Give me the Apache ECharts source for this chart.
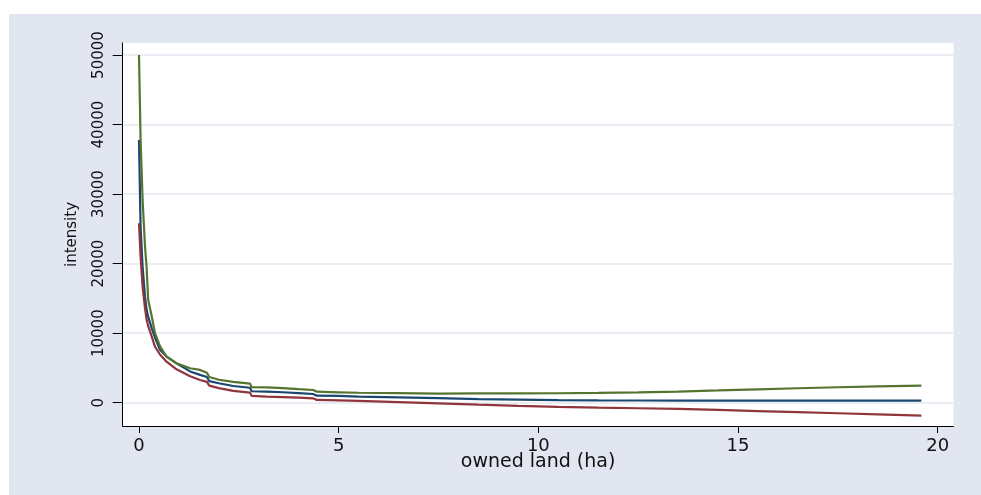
<!DOCTYPE html>
<html>
<head>
<meta charset="utf-8">
<script src="https://cdn.jsdelivr.net/npm/echarts@6/dist/echarts.min.js"></script>
<style>
html,body{margin:0;padding:0;background:#fff;}
#chart{width:981px;height:495px;}
</style>
</head>
<body>
<div id="chart"></div>
<script>
// owned land (ha) – shared x positions
var landHa = [0.0, 0.04, 0.09, 0.15, 0.19, 0.23, 0.32, 0.40, 0.53, 0.69, 0.94, 1.28, 1.53, 1.70, 1.76, 2.0, 2.36, 2.78, 2.82, 3.2, 3.6, 4.0, 4.36, 4.45, 5.0, 5.5, 6.5, 7.5, 8.5, 9.5, 10.5, 11.5, 12.5, 13.5, 14.5, 15.5, 16.5, 17.5, 18.5, 19.59];
// intensity curves
var navySeries = [37800, 25300, 19570, 15250, 13400, 12380, 10700, 9380, 7580, 6630, 5660, 4500, 4000, 3700, 3100, 2800, 2400, 2150, 1650, 1580, 1500, 1380, 1250, 1010, 980, 880, 780, 650, 510, 440, 380, 340, 320, 310, 305, 300, 300, 300, 300, 300];
var maroonSeries = [25800, 21000, 16700, 13600, 11950, 11000, 9500, 8060, 6900, 5900, 4800, 3800, 3270, 3000, 2450, 2100, 1700, 1450, 980, 880, 800, 720, 630, 400, 330, 250, 80, -100, -280, -450, -600, -720, -800, -900, -1040, -1200, -1350, -1520, -1680, -1850];
var greenSeries = [50000, 37800, 29200, 22500, 19500, 14800, 12400, 10000, 8060, 6620, 5670, 4950, 4710, 4300, 3700, 3300, 3000, 2750, 2220, 2200, 2100, 1950, 1830, 1580, 1500, 1430, 1370, 1310, 1330, 1350, 1360, 1410, 1500, 1600, 1760, 1930, 2080, 2220, 2340, 2450];
// tick labels
var xTicks = [0, 5, 10, 15, 20];
var yTicks = [0, 10000, 20000, 30000, 40000, 50000];

function pairs(ys) { return landHa.map(function (x, i) { return [x, ys[i]]; }); }

var chart = echarts.init(document.getElementById('chart'), null, {renderer: 'canvas'});
var font = 'DejaVu Sans';
chart.setOption({
  animation: false,
  backgroundColor: '#ffffff',
  graphic: [{
    type: 'rect', left: 9, top: 14, z: -10,
    shape: {width: 972, height: 481},
    style: {fill: '#e1e6f0'}
  }],
  grid: {
    left: 122.7, right: 27.5, top: 43, bottom: 69,
    show: true, backgroundColor: '#ffffff', borderWidth: 0
  },
  xAxis: {
    type: 'value', min: -0.408, max: 20.395,
    name: 'owned land (ha)', nameLocation: 'middle', nameGap: 27, nameMoveOverlap: false,
    nameTextStyle: {fontFamily: font, fontSize: 19, color: '#111'},
    axisLine: {show: true, onZero: false, lineStyle: {color: '#000', width: 1}},
    axisTick: {show: true, length: 7, customValues: xTicks, lineStyle: {color: '#000'}},
    axisLabel: {customValues: xTicks, margin: 11, fontFamily: font, fontSize: 18, color: '#111',
      formatter: function (v) { return String(v); }},
    splitLine: {show: false}
  },
  yAxis: {
    type: 'value', min: -3350, max: 51730,
    name: 'intensity', nameLocation: 'middle', nameGap: 43, nameRotate: 90, nameMoveOverlap: false,
    nameTextStyle: {fontFamily: font, fontSize: 15, color: '#111'},
    axisLine: {show: true, onZero: false, lineStyle: {color: '#000', width: 1}},
    axisTick: {show: true, length: 10, customValues: yTicks, lineStyle: {color: '#000'}},
    axisLabel: {customValues: yTicks, rotate: 90, margin: 16, fontFamily: font, fontSize: 15, color: '#111',
      formatter: function (v) { return String(v); }},
    splitLine: {show: true, lineStyle: {color: '#e3e8f1', width: 1.5}}
  },
  series: [
    {type: 'line', data: pairs(navySeries), showSymbol: false, lineStyle: {color: '#1a476f', width: 2.2}, itemStyle: {color: '#1a476f'}},
    {type: 'line', data: pairs(maroonSeries), showSymbol: false, lineStyle: {color: '#90353b', width: 2.2}, itemStyle: {color: '#90353b'}},
    {type: 'line', data: pairs(greenSeries), showSymbol: false, lineStyle: {color: '#55752f', width: 2.2}, itemStyle: {color: '#55752f'}}
  ]
});
</script>
</body>
</html>
